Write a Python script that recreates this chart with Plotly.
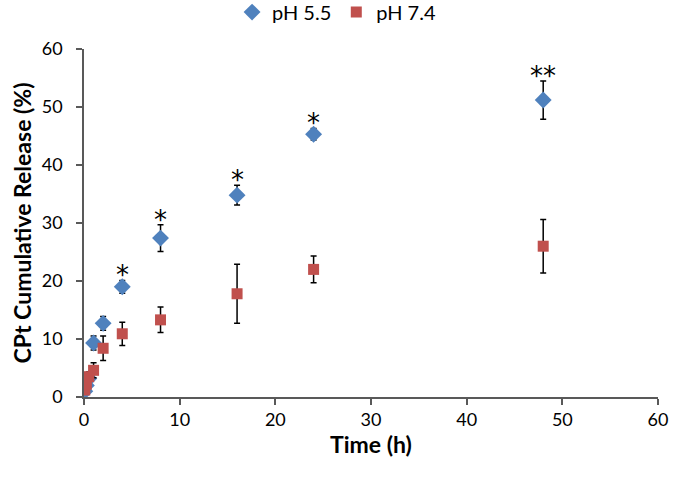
import plotly.graph_objects as go

time_h = [0.083, 0.25, 0.5, 1, 2, 4, 8, 16, 24, 48]
ph55 = [1.0, 2.0, 3.2, 9.3, 12.7, 19.0, 27.4, 34.8, 45.3, 51.2]
ph55_err = [0.3, 0.4, 0.6, 1.2, 1.2, 1.1, 2.3, 1.7, 1.0, 3.3]
ph74 = [1.2, 2.2, 3.5, 4.6, 8.4, 10.9, 13.3, 17.8, 22.0, 26.0]
ph74_err = [0.3, 0.5, 0.8, 1.3, 2.1, 2.0, 2.2, 5.1, 2.3, 4.6]
sig_times = [4, 8, 16, 24, 48]
sig_labels = ["*", "*", "*", "*", "**"]

BLUE = "#4F81BD"
RED = "#C0504D"
FONT = "Lato"

fig = go.Figure()
fig.add_trace(go.Scatter(
    x=time_h, y=ph55, mode="markers", name="pH 5.5",
    marker=dict(symbol="diamond", size=13, color=BLUE),
    error_y=dict(type="data", array=ph55_err, color="black", thickness=1.5, width=3),
))
fig.add_trace(go.Scatter(
    x=time_h, y=ph74, mode="markers", name="pH 7.4",
    marker=dict(symbol="square", size=11, color=RED),
    error_y=dict(type="data", array=ph74_err, color="black", thickness=1.5, width=3),
))

for t, lab in zip(sig_times, sig_labels):
    i = time_h.index(t)
    fig.add_annotation(x=t, y=ph55[i] + ph55_err[i], text=lab, showarrow=False,
                       yanchor="bottom", yshift=-12,
                       font=dict(family="DejaVu Sans", size=26, color="black"))

axis_common = dict(
    showgrid=False, zeroline=False, showline=True, linecolor="#595959", linewidth=1.5,
    ticks="outside", ticklen=6, tickcolor="#595959", tickwidth=1.5,
    tickfont=dict(family=FONT, size=18, color="black"), automargin=True,
)
fig.update_xaxes(range=[0, 60], dtick=10, tick0=0,
                 title=dict(text="<b>Time (h)</b>", font=dict(family=FONT, size=23, color="black"), standoff=4),
                 **axis_common)
fig.update_yaxes(range=[0, 60], dtick=10, tick0=0, ticklabelstandoff=10,
                 title=dict(text="<b>CPt Cumulative Release (%)</b>", font=dict(family=FONT, size=23, color="black"), standoff=4),
                 **axis_common)

fig.update_layout(
    width=675, height=480,
    margin=dict(l=84, r=17, t=49, b=83, autoexpand=False),
    plot_bgcolor="white", paper_bgcolor="white",
    showlegend=True,
    legend=dict(orientation="h", x=0.44, xanchor="center", y=1.106, yanchor="middle",
                font=dict(family=FONT, size=20, color="black"), itemwidth=30),
)

fig.write_html("out.html", config={"displayModeBar": False},
               post_script="document.body.style.margin='0';document.body.style.overflow='hidden';")
